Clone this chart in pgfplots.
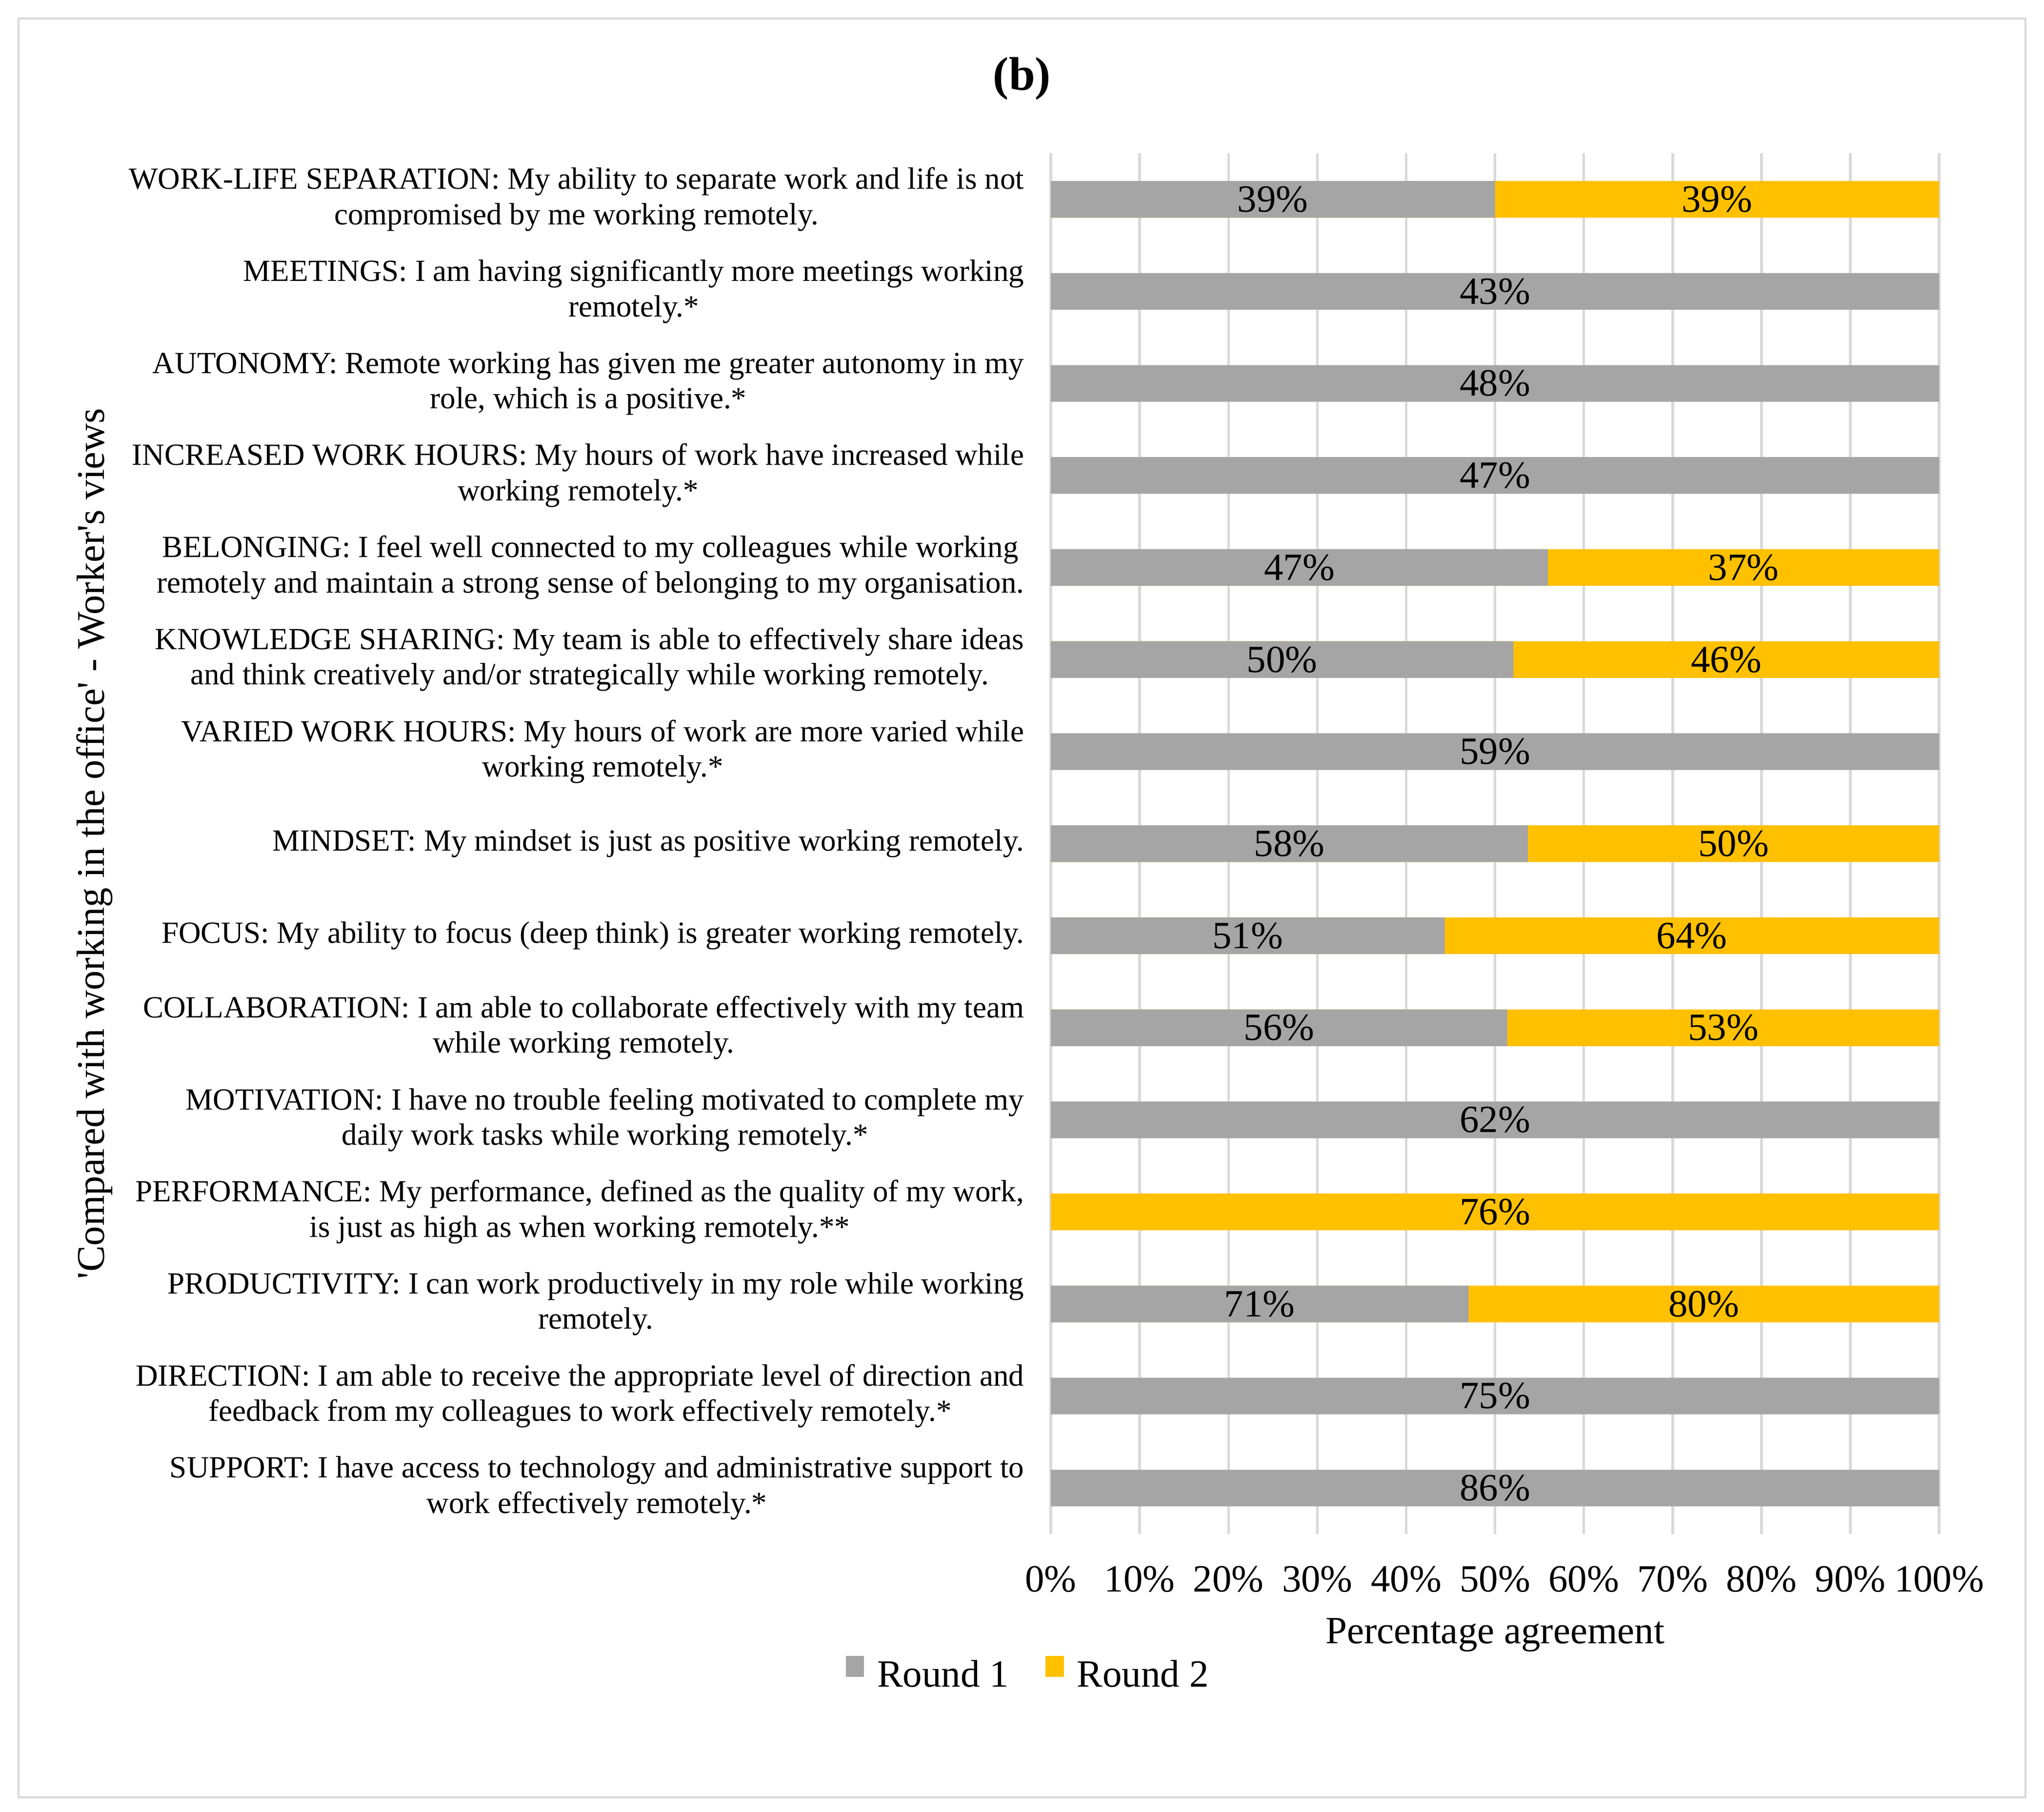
\documentclass[border=0pt]{standalone}
\usepackage{fontspec}
\setmainfont{Liberation Serif}
\usepackage{pgfplots}
\usepackage{pgfplotstable}
\pgfplotsset{compat=1.18}

\definecolor{roundone}{HTML}{A5A5A5}
\definecolor{roundtwo}{HTML}{FFC000}
\definecolor{gridgray}{HTML}{D9D9D9}

\newcommand{\catfont}{\fontsize{11.75}{13.5}\selectfont}
\newcommand{\bigfont}{\fontsize{14.7}{17}\selectfont}

% y: row (0 = bottom), share: Round 1 share of the 100% bar,
% mid: centre of the segment, lab: percentage agreement shown
\pgfplotstableread{
y share mid lab
14 50.00 25.00 39
13 100 50 43
12 100 50 48
11 100 50 47
10 55.95 27.98 47
9 52.08 26.04 50
8 100 50 59
7 53.70 26.85 58
6 44.35 22.17 51
5 51.38 25.69 56
4 100 50 62
2 47.02 23.51 71
1 100 50 75
0 100 50 86
}\roundonedata

\pgfplotstableread{
y share mid lab
14 100 75.00 39
10 100 77.98 37
9 100 76.04 46
7 100 76.85 50
6 100 72.17 64
5 100 75.69 53
3 100 50.00 76
2 100 73.51 80
}\roundtwodata

\begin{document}
\begin{tikzpicture}
\path (0,0) rectangle (780pt,-691.5pt);
\draw[gridgray, line width=0.75pt] (7pt,-7pt) rectangle (773pt,-686pt);
\node[font=\bfseries\fontsize{18}{21}\selectfont] at (390pt,-30pt) {(b)};
\begin{axis}[
  at={(401pt,-585.5pt)}, anchor=south west,
  scale only axis, width=339pt, height=527pt,
  xmin=0, xmax=100, ymin=-0.5, ymax=14.5,
  axis lines=left, axis line style={draw=none},
  major tick length=0pt,
  xtick={0,10,...,100},
  xticklabel={\pgfmathprintnumber{\tick}\%},
  /pgf/number format/assume math mode=true,
  xmajorgrids, grid style={gridgray, line width=1pt},
  ytick={0,...,14},
  yticklabels={
    {SUPPORT: I have access to technology and administrative support to\\work effectively remotely.*},
    {DIRECTION: I am able to receive the appropriate level of direction and\\feedback from my colleagues to work effectively remotely.*},
    {PRODUCTIVITY: I can work productively in my role while working\\remotely.},
    {PERFORMANCE: My performance, defined as the quality of my work,\\is just as high as when working remotely.**},
    {MOTIVATION: I have no trouble feeling motivated to complete my\\daily work tasks while working remotely.*},
    {COLLABORATION: I am able to collaborate effectively with my team\\while working remotely.},
    {FOCUS: My ability to focus (deep think) is greater working remotely.},
    {MINDSET: My mindset is just as positive working remotely.},
    {VARIED WORK HOURS: My hours of work are more varied while\\working remotely.*},
    {KNOWLEDGE SHARING: My team is able to effectively share ideas\\and think creatively and/or strategically while working remotely.},
    {BELONGING: I feel well connected to my colleagues while working\\remotely and maintain a strong sense of belonging to my organisation.},
    {INCREASED WORK HOURS: My hours of work have increased while\\working remotely.*},
    {AUTONOMY: Remote working has given me greater autonomy in my\\role, which is a positive.*},
    {MEETINGS: I am having significantly more meetings working\\remotely.*},
    {WORK-LIFE SEPARATION: My ability to separate work and life is not\\compromised by me working remotely.}
  },
  yticklabel style={align=center, font=\catfont, inner sep=0pt, xshift=-10pt},
  xticklabel style={font=\bigfont, anchor=base, yshift=-22pt},
  xlabel={Percentage agreement},
  xlabel style={font=\bigfont, at={(axis description cs:0.5,0)}, anchor=center, yshift=-38.5pt},
  ylabel={\textquotesingle Compared with working in the office\textquotesingle\ - Worker\textquotesingle s views},
  ylabel style={font=\fontsize{15}{17}\selectfont, at={(axis description cs:-1.0767,0.5)}, anchor=center},
  bar width=14pt,
  legend style={at={(axis description cs:-0.0236,-0.1025)}, anchor=center, draw=none, fill=none,
    font=\bigfont, inner sep=0pt,
    /tikz/every odd column/.append style={column sep=3pt},
    /tikz/every even column/.append style={column sep=12pt}},
  legend columns=-1,
  legend image code/.code={\fill[#1, draw=none] (0pt,-0.5pt) rectangle (7pt,7.5pt);},
  clip=false,
]
\addplot[forget plot, xbar, bar shift=0pt, fill=roundtwo, draw=none] table[x=share, y=y] {\roundtwodata};
\addplot[forget plot, xbar, bar shift=0pt, fill=roundone, draw=none] table[x=share, y=y] {\roundonedata};
\addplot[forget plot, draw=none, mark=none, point meta=explicit,
  nodes near coords={\pgfmathprintnumber{\pgfplotspointmeta}\%},
  every node near coord/.append style={anchor=center, font=\bigfont}]
  table[x=mid, y=y, meta=lab] {\roundonedata};
\addplot[forget plot, draw=none, mark=none, point meta=explicit,
  nodes near coords={\pgfmathprintnumber{\pgfplotspointmeta}\%},
  every node near coord/.append style={anchor=center, font=\bigfont}]
  table[x=mid, y=y, meta=lab] {\roundtwodata};
\addlegendimage{fill=roundone, draw=none}
\addlegendentry{Round 1}
\addlegendimage{fill=roundtwo, draw=none}
\addlegendentry{Round 2}
\end{axis}
\end{tikzpicture}
\end{document}
